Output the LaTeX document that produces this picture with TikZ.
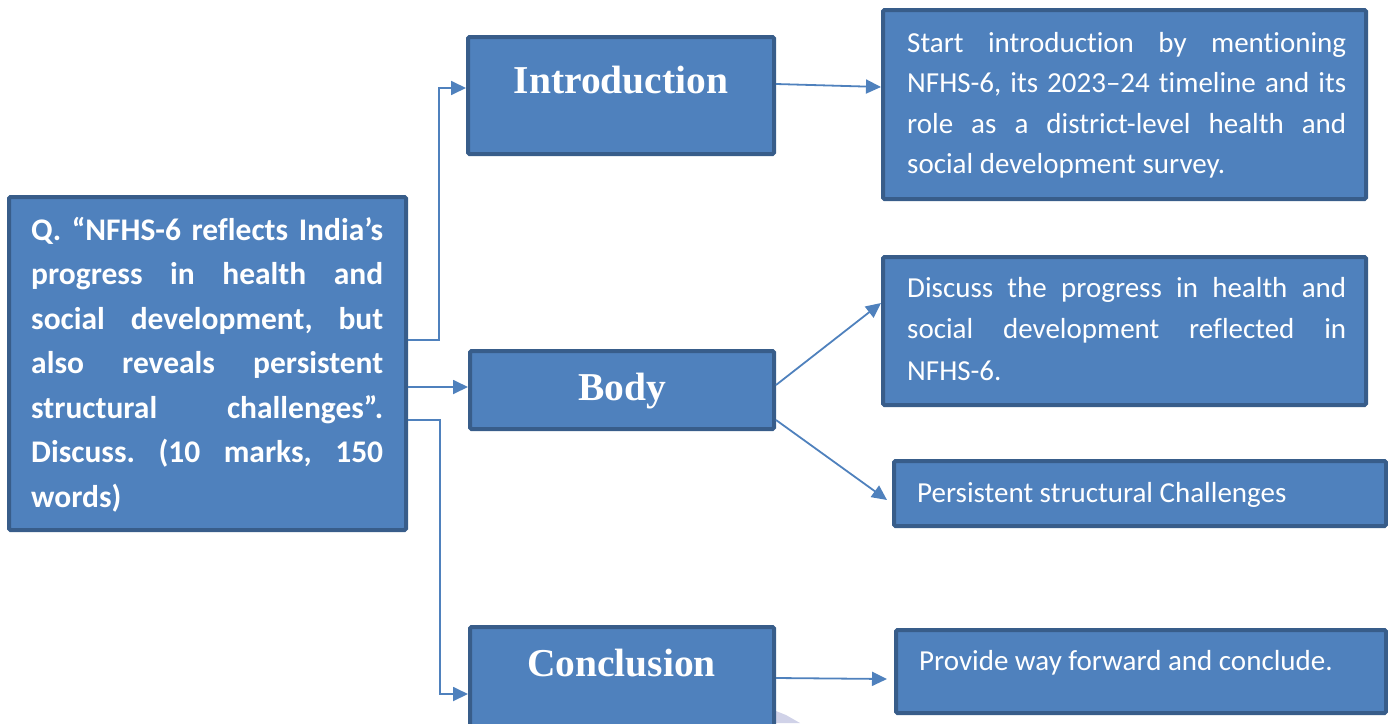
\documentclass[tikz,border=0pt]{standalone}
\usepackage{fontspec}
\setmainfont{Carlito}[Ligatures={NoCommon}]
\newfontfamily\titlefont{Liberation Serif}
\usetikzlibrary{arrows.meta,calc}
\definecolor{boxfill}{RGB}{79,129,189}
\definecolor{boxline}{RGB}{56,93,138}
\definecolor{connc}{RGB}{79,129,189}
\definecolor{wmark}{RGB}{208,210,232}
\newcommand{\jpar}[4]{\parbox[t]{#1}{\fontsize{#2}{#3}\selectfont\frenchspacing\tolerance=10000\hyphenpenalty=10000\exhyphenpenalty=10000 #4}}
\begin{document}
\begin{tikzpicture}[x=1pt,y=-1pt,
  box/.style={draw=boxline, line width=4pt, fill=boxfill, rounded corners=1.5pt, inner sep=0pt},
  conn/.style={draw=connc, line width=1.8pt, -{Triangle[length=15pt,width=14pt]}},
  title/.style={text=white, font=\titlefont\bfseries\fontsize{39.5}{40}\selectfont, inner sep=0pt, anchor=base},
  txt/.style={text=white, inner sep=0pt, anchor=base west},
]
\useasboundingbox (0,0) rectangle (1388,723);
% watermark fragment
\fill[wmark] (776,711) -- (786,715) -- (800,723) -- (776,723) -- cycle;
% boxes
\node[box, minimum width=397pt, minimum height=333pt] (q) at (207.5,363.5) {};
\node[box, minimum width=306pt, minimum height=117pt] (intro) at (621,95.5) {};
\node[box, minimum width=304pt, minimum height=78pt] (body) at (622,390) {};
\node[box, minimum width=304pt, minimum height=106pt] (concl) at (622,680) {};
\node[box, minimum width=483pt, minimum height=189pt] (t1) at (1124.5,104.5) {};
\node[box, minimum width=483pt, minimum height=148pt] (t2) at (1124.5,331) {};
\node[box, minimum width=492pt, minimum height=65pt] (t3) at (1140,493.5) {};
\node[box, minimum width=490pt, minimum height=83pt] (t4) at (1141,671.5) {};
% texts
\node[title] (introT) at (621,93) {Introduction};
\node[title] (bodyT) at (622,400) {Body};
\node[title] (conclT) at (621.5,676) {Conclusion};
\node[txt, font=\bfseries] (qT) at (31,240) {\jpar{352pt}{31.5}{44.5}{Q. “NFHS-6 reflects India’s\linebreak progress in health and\linebreak social development, but\linebreak also reveals persistent\linebreak structural challenges”.\linebreak Discuss. (10 marks, 150\linebreak words)}};
\node[txt] (t1T) at (907,52) {\jpar{439pt}{29}{40.5}{Start introduction by mentioning\linebreak NFHS-6, its 2023–24 timeline and its\linebreak role as a district-level health and\linebreak social development survey.}};
\node[txt] (t2T) at (907,297) {\jpar{439pt}{29}{41.5}{Discuss the progress in health and\linebreak social development reflected in\linebreak NFHS-6.}};
\node[txt, font=\fontsize{29}{35}\selectfont] (t3T) at (917,502) {Persistent structural Challenges};
\node[txt, font=\fontsize{29}{35}\selectfont] (t4T) at (919,670) {Provide way forward and conclude.};
% connectors
\draw[conn] ([yshift=23.5pt]q.east) -- ++(31,0) |- ([yshift=7.5pt]intro.west);
\draw[conn] ([yshift=-23.5pt]q.east) -- ([yshift=3pt]body.west);
\draw[conn] ([yshift=-56.5pt]q.east) -- ++(32,0) |- ([yshift=-14pt]concl.west);
\draw[conn] ([yshift=11.5pt]intro.east) -- ([yshift=17.5pt]t1.west);
\draw[conn] ([yshift=5pt]body.east) -- ([yshift=28pt]t2.west);
\draw[conn] ([yshift=-30pt]body.east) -- ([xshift=-5pt,yshift=-6.5pt]t3.west);
\draw[conn] ([yshift=2pt]concl.east) -- ([xshift=-7pt,yshift=-7.5pt]t4.west);
\end{tikzpicture}
\end{document}
